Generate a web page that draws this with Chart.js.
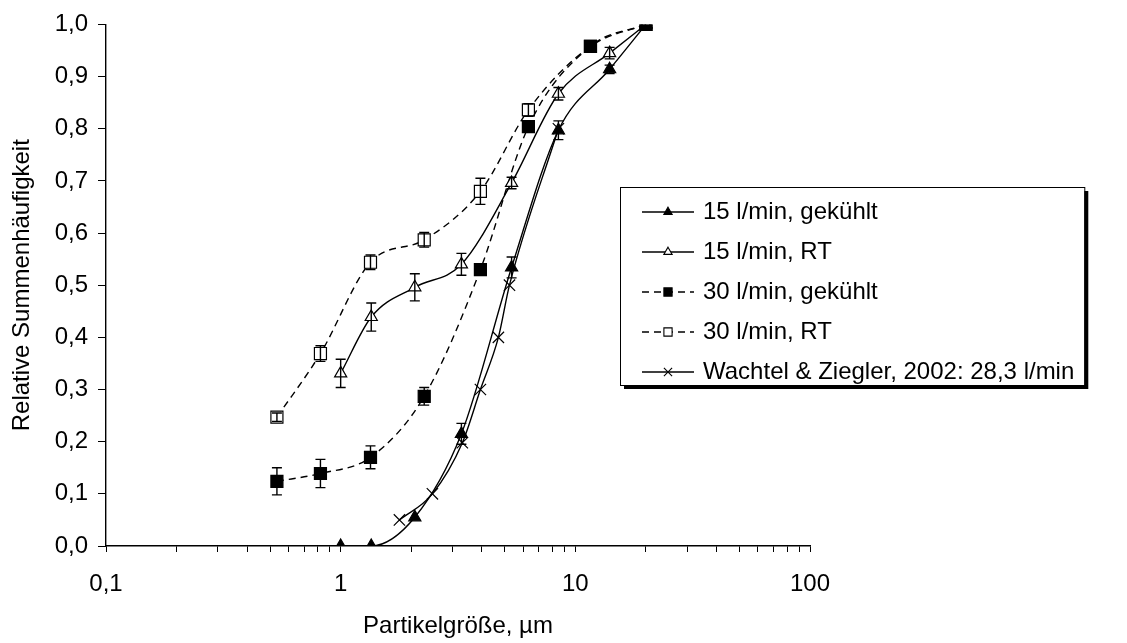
<!DOCTYPE html>
<html>
<head>
<meta charset="utf-8">
<script src="https://cdn.jsdelivr.net/npm/chart.js@4.4.0/dist/chart.umd.min.js"></script>
<style>
  html, body { margin: 0; padding: 0; background: #fff; }
  #wrap { width: 1127px; height: 643px; }
</style>
</head>
<body>
<div id="wrap"><canvas id="myChart" width="1127" height="643"></canvas></div>
<script>
// series names (legend order)
const seriesNames = [
  "15 l/min, gekühlt",
  "15 l/min, RT",
  "30 l/min, gekühlt",
  "30 l/min, RT",
  "Wachtel & Ziegler, 2002: 28,3 l/min",
];

// particle sizes, µm
const size15 = [1.0, 1.35, 2.07, 3.27, 5.35, 8.47, 14.0, 20];
const size30 = [0.535, 0.82, 1.34, 2.27, 3.94, 6.31, 11.6, 20];
const sizeWZ = [1.78, 2.46, 3.3, 3.94, 4.7, 5.24, 8.47];

// cumulative frequency
const cooled15 = [0, 0, 0.055, 0.215, 0.534, 0.797, 0.914, 1.0];
const rt15 = [0.331, 0.439, 0.496, 0.54, 0.696, 0.867, 0.945, 1.0];
const cooled30 = [0.124, 0.139, 0.17, 0.287, 0.53, 0.804, 0.958, 1.0];
const rt30 = [0.247, 0.369, 0.544, 0.587, 0.68, 0.836, 0.958, 1.0];
const wachtel = [0.05, 0.10, 0.198, 0.30, 0.40, 0.50, 0.80];

// error bars (+/-)
const errCooled15 = [0, 0, 0, 0.02, 0.02, 0.018, 0.008, 0];
const errRt15 = [0.027, 0.027, 0.026, 0.021, 0.011, 0.012, 0.011, 0];
const errCooled30 = [0.026, 0.027, 0.022, 0.017, 0.008, 0.008, 0.005, 0];
const errRt30 = [0.008, 0.015, 0.014, 0.014, 0.025, 0.012, 0.005, 0];

// axis ticks
const xMajorTicks = [0.1, 1, 10, 100];
const xMajorLabels = ["0,1", "1", "10", "100"];
const yTicks = [0, 0.1, 0.2, 0.3, 0.4, 0.5, 0.6, 0.7, 0.8, 0.9, 1.0];

const xTickValues = [];
for (const d of xMajorTicks.slice(0, 3)) {
  for (let k = 1; k <= 9; k++) xTickValues.push(d * k);
}
xTickValues.push(100);

const pts = (xs, ys) => xs.map((x, i) => ({ x: x, y: ys[i] }));
const FONT = "'Liberation Sans', Arial, sans-serif";
const FONT_SIZE = 24;
const DASH = [7, 5];

const datasets = [
  { label: seriesNames[0], data: pts(size15, cooled15), errors: errCooled15,
    pointStyle: "triangle", pointRadius: 7, pointBackgroundColor: "#000", legendRadius: 4.8 },
  { label: seriesNames[1], data: pts(size15, rt15), errors: errRt15,
    pointStyle: "triangle", pointRadius: 7, pointBackgroundColor: "#fff", legendRadius: 4.8 },
  { label: seriesNames[2], data: pts(size30, cooled30), errors: errCooled30, borderDash: DASH,
    pointStyle: "rect", pointRadius: 8.5, pointBackgroundColor: "#000", legendRadius: 5.8 },
  { label: seriesNames[3], data: pts(size30, rt30), errors: errRt30, borderDash: DASH,
    pointStyle: "rect", pointRadius: 8.5, pointBackgroundColor: "#fff", legendRadius: 5.8 },
  { label: seriesNames[4], data: pts(sizeWZ, wachtel),
    pointStyle: "crossRot", pointRadius: 8, pointBackgroundColor: "#000", legendRadius: 5.8 },
].map((d) => Object.assign({
  borderColor: "#000",
  borderWidth: 1.4,
  pointBorderColor: "#000",
  pointBorderWidth: 1.2,
  cubicInterpolationMode: "monotone",
  showLine: true,
  fill: false,
}, d));

// vertical error bars with caps
const errorBars = {
  id: "errorBars",
  afterDatasetsDraw(chart) {
    const ctx = chart.ctx;
    const y = chart.scales.y;
    ctx.save();
    ctx.strokeStyle = "#000";
    ctx.lineWidth = 1.4;
    chart.data.datasets.forEach((ds, i) => {
      if (!ds.errors) return;
      const meta = chart.getDatasetMeta(i);
      meta.data.forEach((p, j) => {
        const e = ds.errors[j];
        if (!e) return;
        const v = ds.data[j].y;
        const y1 = y.getPixelForValue(v - e);
        const y2 = y.getPixelForValue(v + e);
        ctx.beginPath();
        ctx.moveTo(p.x, y1); ctx.lineTo(p.x, y2);
        ctx.moveTo(p.x - 5, y1); ctx.lineTo(p.x + 5, y1);
        ctx.moveTo(p.x - 5, y2); ctx.lineTo(p.x + 5, y2);
        ctx.stroke();
      });
    });
    ctx.restore();
  },
};

function drawMarker(ctx, style, x, y, r, fill) {
  ctx.beginPath();
  if (style === "triangle") {
    ctx.moveTo(x, y - r);
    ctx.lineTo(x + r * 0.866, y + r * 0.5);
    ctx.lineTo(x - r * 0.866, y + r * 0.5);
    ctx.closePath();
  } else if (style === "rect") {
    const s = r * 0.707;
    ctx.rect(x - s, y - s, 2 * s, 2 * s);
  } else {
    const s = r * 0.707;
    ctx.moveTo(x - s, y - s); ctx.lineTo(x + s, y + s);
    ctx.moveTo(x + s, y - s); ctx.lineTo(x - s, y + s);
  }
  if (style !== "crossRot") { ctx.fillStyle = fill; ctx.fill(); }
  ctx.stroke();
}

// boxed legend with shadow, like the Excel original
const boxLegend = {
  id: "boxLegend",
  afterDraw(chart) {
    const ctx = chart.ctx;
    ctx.save();
    ctx.font = FONT_SIZE + "px " + FONT;
    const textX = 703;
    const widest = Math.max(...chart.data.datasets.map((d) => ctx.measureText(d.label).width));
    const bx = 620, by = 187, bh = 198;
    const bw = textX + widest + 10 - bx;
    ctx.fillStyle = "#000";
    ctx.fillRect(bx + 4, by + 4, bw, bh);
    ctx.fillStyle = "#fff";
    ctx.fillRect(bx, by, bw, bh);
    ctx.strokeStyle = "#000";
    ctx.lineWidth = 1;
    ctx.strokeRect(bx + 0.5, by + 0.5, bw, bh);
    ctx.textBaseline = "middle";
    chart.data.datasets.forEach((ds, i) => {
      const yy = 212 + i * 40;
      ctx.strokeStyle = "#000";
      ctx.lineWidth = 1.4;
      ctx.setLineDash(ds.borderDash || []);
      ctx.beginPath();
      ctx.moveTo(642, yy); ctx.lineTo(694, yy);
      ctx.stroke();
      ctx.setLineDash([]);
      ctx.lineWidth = 1.1;
      drawMarker(ctx, ds.pointStyle, 668, yy, ds.legendRadius, ds.pointBackgroundColor);
      ctx.fillStyle = "#000";
      ctx.fillText(ds.label, textX, yy);
    });
    ctx.restore();
  },
};

new Chart(document.getElementById("myChart"), {
  type: "scatter",
  data: { datasets: datasets },
  plugins: [errorBars, boxLegend],
  options: {
    responsive: false,
    animation: false,
    devicePixelRatio: 1,
    layout: { padding: { left: 0, top: 20, right: 317, bottom: 0 } },
    plugins: { legend: { display: false }, tooltip: { enabled: false } },
    scales: {
      x: {
        type: "logarithmic",
        min: 0.1,
        max: 100,
        afterBuildTicks: (s) => { s.ticks = xTickValues.map((v) => ({ value: v })); },
        afterFit: (s) => { s.height = 97; },
        ticks: {
          autoSkip: false,
          maxRotation: 0,
          padding: 18,
          color: "#000",
          font: { family: FONT, size: FONT_SIZE },
          callback: (v) => {
            const k = xMajorTicks.findIndex((m) => Math.abs(m - v) < 1e-9);
            return k >= 0 ? xMajorLabels[k] : "";
          },
        },
        grid: { drawOnChartArea: false, drawTicks: true, tickLength: 6, color: "#000", lineWidth: 1 },
        border: { display: true, color: "#000", width: 1.4 },
        title: {
          display: true,
          text: "Partikelgröße, µm",
          color: "#000",
          font: { family: FONT, size: FONT_SIZE },
          padding: { top: 0, bottom: 2 },
        },
      },
      y: {
        min: 0,
        max: 1,
        afterBuildTicks: (s) => { s.ticks = yTicks.map((v) => ({ value: v })); },
        afterFit: (s) => { s.width = 106; },
        ticks: {
          padding: 10,
          color: "#000",
          font: { family: FONT, size: FONT_SIZE },
          callback: (v) => Number(v).toFixed(1).replace(".", ","),
        },
        grid: { drawOnChartArea: false, drawTicks: true, tickLength: 8, color: "#000", lineWidth: 1 },
        border: { display: true, color: "#000", width: 1.4 },
        title: {
          display: true,
          text: "Relative Summenhäufigkeit",
          color: "#000",
          font: { family: FONT, size: FONT_SIZE },
          padding: { top: 8, bottom: 0 },
        },
      },
    },
  },
});
</script>
</body>
</html>
